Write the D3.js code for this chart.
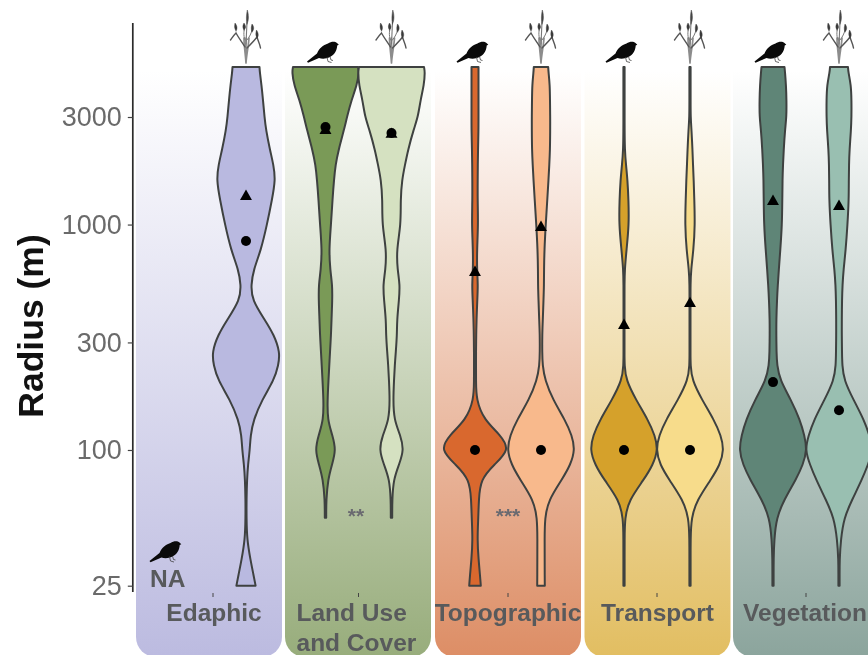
<!DOCTYPE html>
<html><head><meta charset="utf-8">
<style>html,body{margin:0;padding:0;background:#fff;overflow:hidden}svg{display:block;filter:blur(0.45px)}</style>
<script src="https://cdnjs.cloudflare.com/ajax/libs/d3/7.8.5/d3.min.js"></script>
</head><body><svg id="chart" width="868" height="655"></svg>
<script>
const categories = ["Edaphic","Land Use and Cover","Topographic","Transport","Vegetation"];
const yTicks = [25,100,300,1000,3000];
const radii = [5000,4750,4160,3570,3000,2630,2140,1840,1580,1290,1000,771,629,540,463,377,324,272,238,204,167,136,116,100,86,74,60,50,40,32.5,27.9,25];

const edaphicPlant   = [13.5,13.8,15.5,17,18.5,20,24,27.5,29.5,26,21,15,7.5,5,6,19,28,34,32.5,28,16,7.5,4.5,3.8,2,1,.5,.5,1,4.5,7.5,9.6];
const landBird       = [32.5,33.5,31.5,26,21.5,18.5,13,10,8.5,7,5.5,3.5,4.7,6.8,6.8,6,5.5,4.5,3.8,3,2,2,7,10.5,6.5,2.5,.7,.7];
const landPlant      = [32.5,33.5,32.5,29,26.5,22,16.5,13.5,10.5,9,9.5,5,6,8.5,7.5,5.5,5.5,4.3,3.3,2.5,1.7,2.5,9,12.5,7.5,2,.7,.7];
const topoBird       = [3.5,3.5,3.5,3.5,3.5,3.5,3,2.8,2.7,2.6,3.2,2,2,3,2.3,1.5,1.2,1,1,1,1.2,9,26,35,19,5.5,3.8,3.3,2.3,3.6,5,5.8];
const topoPlant      = [7.2,7.5,8.8,9,9.2,9.2,9,8.3,7.5,6.3,4.7,3.4,3,3,2.5,1.8,1.2,1.2,1.5,4,12,24,31,34,29.5,21,7.5,3.8,3.6,3.7,3.7,3.8];
const transportBird  = [.6,.6,.6,.6,.6,.6,.8,2,3.5,4.5,5,2.5,.7,.5,.5,.5,.5,.5,.5,2,12,24,31,34,29,20,5,.8,.6,.6,.6,.6];
const transportPlant = [.6,.6,.6,.6,.6,1.5,2.5,3,3.7,4.3,5,3.5,1,.5,.5,.5,.5,.5,.5,2,12,24,31,34,30,21,7,1.2,.6,.6,.6,.6];
const vegBird        = [11.5,12,13,13.5,13.5,12,10.7,10,9.5,9.3,9,7.3,5.8,4.8,4,3.3,3.3,3.5,4,7,18,27,31.5,34,30,23,11,3.5,1.2,.6,.6,.6];
const vegPlant       = [9,9.3,12,12.5,12.5,12,10.5,10,9.8,9.8,8.5,6.7,4.5,3.5,3,2.8,2.8,3,3.2,5,14.5,25,30.5,34,29,23,13,5,1.8,.6,.6,.6];

const groups = ["bird","plant"];
const violinCat   = [0,1,1,2,2,3,3,4,4];
const violinGroup = ["plant","bird","plant","bird","plant","bird","plant","bird","plant"];
const violinData  = [edaphicPlant,landBird,landPlant,topoBird,topoPlant,transportBird,transportPlant,vegBird,vegPlant];
const circleValues   = [846,2710,2550,100,100,100,100,200,150];
const triangleValues = [1326,2600,2500,610,966,355,444,1260,1197];
const sigLabels = ["","**","***","",""];

const birdColors  = ["#b9b9e0","#7a9a57","#d9682e","#d5a12b","#5f8577"];
const plantColors = ["#b9b9e0","#d5e1c1","#f8b98c","#f7dc8b","#99bfb1"];
const panelColors = ["#bcbbe0","#98ad7c","#dd8e66","#e2be62","#8ca59d"];

const svg = d3.select("#chart");
const y = d3.scaleLog().domain([25,5000]).range([585.7,67]);
const x = d3.scaleOrdinal().domain(categories).range([213,358.5,508,657,806]);
const panelX = d3.scaleOrdinal().domain(categories).range([209,358,508,657.5,806]);
const xGroup = d3.scalePoint().domain(groups).range([-33,33]);
const w = d3.scaleLinear().domain([0,33]).range([0,33]);

const defs = svg.append("defs");
const panelW = 146;
categories.forEach((c,i)=>{
  const g = defs.append("linearGradient").attr("id","pg"+i).attr("gradientUnits","userSpaceOnUse")
    .attr("x1",0).attr("x2",0).attr("y1",70).attr("y2",655);
  g.append("stop").attr("offset",0).attr("stop-color","#fff");
  g.append("stop").attr("offset",1).attr("stop-color",panelColors[i]);
});
svg.selectAll("rect.panel").data(categories).join("rect").attr("class","panel")
  .attr("x",c=>panelX(c)-panelW/2).attr("width",panelW)
  .attr("y",20).attr("height",637).attr("rx",20)
  .attr("fill",(c,i)=>`url(#pg${i})`);

const area = d3.area().curve(d3.curveBasis)
  .y((d,i)=>y(radii[i]));
violinData.forEach((vals,k)=>{
  const cat = categories[violinCat[k]], cx = x(cat)+xGroup(violinGroup[k]);
  const fill = violinGroup[k]==="bird"?birdColors[violinCat[k]]:plantColors[violinCat[k]];
  svg.append("path").datum(vals)
    .attr("d",area.x0(d=>cx-w(d)).x1(d=>cx+w(d)))
    .attr("fill",fill).attr("stroke","#3e4140").attr("stroke-width",2).attr("stroke-linejoin","round");
});

const tri = d3.symbol().type(d3.symbolTriangle).size(62);
circleValues.forEach((v,k)=>{
  const cx = x(categories[violinCat[k]])+xGroup(violinGroup[k]);
  svg.append("path").attr("d",tri()).attr("transform",`translate(${cx},${y(triangleValues[k])-0.5})`).attr("fill","#000");
  svg.append("circle").attr("cx",cx).attr("cy",y(v)).attr("r",5).attr("fill","#000");
});

// Icons
const birdPath = "M0,19.5 L10,11.5 C12,6.5 16,3 21,1.5 C24,-0.5 28,-0.8 30,1 L31.8,2.8 L30.2,3.6 C30,8.5 27.5,13 23,15 C19,17 15,17 12,16 L1,20.8 Z";
function bird(px,py){
  const g = svg.append("g").attr("transform",`translate(${px},${py})`);
  g.append("path").attr("d",birdPath).attr("fill","#0a0a0a");
  g.append("path").attr("d","M20,15 L21,19.5 L24.5,20.5 M23,14.5 L24,18 L26,18.5").attr("fill","none").attr("stroke","#444").attr("stroke-width",0.8);
}
function plant(cx){
  const g = svg.append("g").attr("transform",`translate(${cx},0)`).attr("fill","none").attr("stroke-linecap","round");
  g.append("path").attr("d","M0,63 C-0.5,55 -2,46 -2,38 M0,63 C0.5,55 2.5,46 3,38 M0,62 L0,38").attr("stroke","#8c8c8c").attr("stroke-width",1.7);
  g.append("path").attr("d","M0,44 L1,22").attr("stroke","#777").attr("stroke-width",1.1);
  g.append("path").attr("d","M1,24 C-0.2,19 0.6,14 1.3,10 C2.8,15 3,20 1,24 Z").attr("fill","#444").attr("stroke","#444").attr("stroke-width",.5);
  g.append("path").attr("d","M-1,47 C-4,42 -8,37 -10,33 C-12,35 -14,38 -15.5,40").attr("stroke","#555").attr("stroke-width",1.4);
  g.append("path").attr("d","M1,48 C5,44 8,41 11,37 C12,41 14,44 14.5,48").attr("stroke","#555").attr("stroke-width",1.4);
  g.append("path").attr("d","M-1,40 C-3,35 -2,30 -1,27 M1,40 C4,36 5,34 6,30").attr("stroke","#777").attr("stroke-width",1);
  g.append("path").attr("d","M-10,31 C-12,28 -11.5,26 -11,23 C-8.5,26 -8.5,29 -10,31 Z M6,32 C4.5,29 5.5,26 6,24 C8.5,27 8,30 6,32 Z M11,38 C9,35 10,32 10.5,30 C12.5,33 13,36 11,38 Z M-2,30 C-4,27 -3,25 -2,23 C0,26 0,28 -2,30 Z").attr("fill","#3a3a3a").attr("stroke","#3a3a3a").attr("stroke-width",.4);
}
categories.slice(1).forEach(c=>bird(x(c)+xGroup("bird")-18.5,42));
categories.forEach(c=>plant(x(c)+xGroup("plant")));
bird(149.5,541.5);

// axes
svg.append("line").attr("x1",132.8).attr("x2",132.8).attr("y1",23).attr("y2",592).attr("stroke","#2b2b2b").attr("stroke-width",1.7);
const yAxis = svg.append("g").attr("transform","translate(132.8,0)")
  .call(d3.axisLeft(y).tickValues(yTicks).tickFormat(d3.format("d")).tickSize(5).tickPadding(6));
yAxis.select(".domain").remove();
yAxis.selectAll("line").attr("stroke","#444").attr("stroke-width",1.2);
yAxis.selectAll("text").attr("font-family","'Liberation Sans',Arial,sans-serif").attr("font-size",27).attr("fill","#6a6a6a");

const xAxis = svg.append("g").attr("transform","translate(0,593)")
  .call(d3.axisBottom(x.copy().unknown(0)).tickValues(categories).tickSize(4).tickFormat(""));
xAxis.select(".domain").remove();
xAxis.selectAll(".tick").attr("transform",c=>`translate(${x(c)},0)`);
xAxis.selectAll("line").attr("stroke","#444").attr("stroke-width",1);

svg.append("text").attr("transform","translate(43,326) rotate(-90)").attr("text-anchor","middle")
  .attr("font-family","'Liberation Sans',Arial,sans-serif").attr("font-weight","bold").attr("font-size",35.5).attr("fill","#111").text("Radius (m)");

const labFont = sel=>sel.attr("font-family","'Liberation Sans',Arial,sans-serif").attr("font-weight","bold").attr("font-size",24.5).attr("fill","#585a5c");
const labelCx = [214,358,508,657.5,805];
categories.forEach((c,i)=>{
  if(c.includes(" and ")){
    const [a,b] = c.split(" and ");
    svg.append("text").attr("x",296.5).attr("y",621).call(labFont).text(a);
    svg.append("text").attr("x",296.5).attr("y",651).call(labFont).text("and "+b);
  } else {
    svg.append("text").attr("x",labelCx[i]).attr("y",621).attr("text-anchor","middle").call(labFont).text(c);
  }
});
svg.append("text").attr("x",150).attr("y",586.5).call(labFont).text("NA");
const sigX = [0,356,508,0,0];
sigLabels.forEach((s,i)=>{ if(s) svg.append("text").attr("x",sigX[i]).attr("y",523).attr("text-anchor","middle")
  .attr("font-family","'Liberation Sans',Arial,sans-serif").attr("font-weight","bold").attr("font-size",21).attr("fill","#6a6a70").text(s); });
</script></body></html>
